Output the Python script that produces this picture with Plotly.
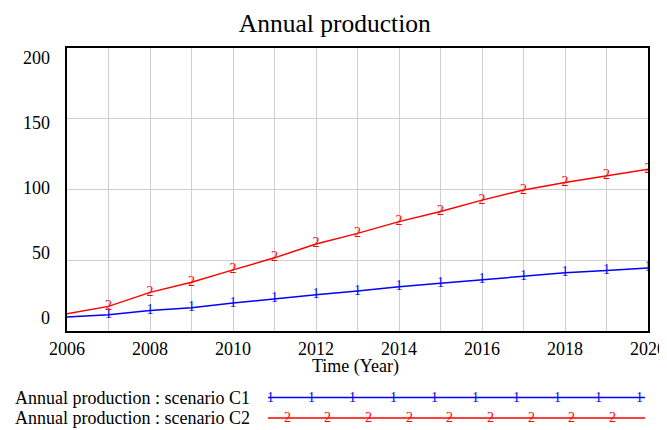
import plotly.graph_objects as go


# ==========================
# DATA
# ==========================

years = list(range(2006, 2021))

scenario_c1 = [9.9, 11.5, 14.4, 16.5, 19.7, 22.8, 25.6, 28.2, 31.3,
               33.8, 36.2, 38.5, 41.1, 42.7, 44.6]

scenario_c2 = [12.2, 17.4, 27.3, 34.5, 43.2, 51.7, 61.5, 69.0, 77.3,
               84.5, 92.5, 99.6, 105.0, 109.6, 114.4]

series_names = [
    "Annual production : scenario C1",
    "Annual production : scenario C2",
]

y_ticks = [0, 50, 100, 150, 200]
x_ticks = list(range(2006, 2021, 2))


# ==========================
# COMMON SETTINGS
# ==========================

FONT = "Liberation Serif"
BLUE = "#0000FF"
RED = "#FF0000"
GRID = "#cfcfcf"


def series_trace(y, label, color, name):

    marks = [""] + [label] * (len(y) - 1)

    return go.Scatter(
        x=years,
        y=y,
        name=name,
        mode="lines+text",
        text=marks,
        textposition="middle center",
        textfont=dict(family=FONT, size=14, color=color),
        line=dict(color=color, width=1.5),
        showlegend=False
    )


def paper_text(text, x, y, size=18, color="black", anchor="center"):

    fig.add_annotation(
        text=text,
        x=x,
        y=y,
        xref="paper",
        yref="paper",
        xanchor=anchor,
        yanchor="middle",
        showarrow=False,
        font=dict(family=FONT, size=size, color=color)
    )


fig = go.Figure()

fig.add_trace(series_trace(scenario_c1, "1", BLUE, series_names[0]))
fig.add_trace(series_trace(scenario_c2, "2", RED, series_names[1]))


# ==========================
# LAYOUT
# ==========================

# the page body keeps its 8px default margin, so margins are trimmed
# on the left / top to land the frame where the reference has it
fig.update_layout(
    width=667,
    height=430,
    margin=dict(l=59, r=27, t=40, b=107),
    paper_bgcolor="white",
    plot_bgcolor="white",
    font=dict(family=FONT, size=18, color="black"),
    title=dict(
        text="Annual production",
        x=0.49,
        xanchor="center",
        y=0.965,
        yanchor="middle",
        font=dict(family=FONT, size=25.5, color="black")
    ),
)

fig.update_xaxes(
    range=[2006, 2020],
    tickvals=x_ticks,
    ticks="",
    automargin=False,
    showgrid=True,
    gridcolor=GRID,
    gridwidth=1,
    minor=dict(dtick=1, showgrid=True, gridcolor=GRID, gridwidth=1),
    showline=True,
    linecolor="black",
    linewidth=2,
    mirror=True,
    zeroline=False,
    tickfont=dict(family=FONT, size=18)
)

# Vensim spreads its y labels a little inside the frame, so draw them
# as annotations instead of the axis' own tick labels
fig.update_yaxes(
    range=[0, 200],
    tickvals=y_ticks,
    showticklabels=False,
    ticks="",
    automargin=False,
    showgrid=True,
    gridcolor=GRID,
    gridwidth=1,
    showline=True,
    linecolor="black",
    linewidth=2,
    mirror=True,
    zeroline=False
)

for i, tick in enumerate(y_ticks):
    paper_text(str(tick), -0.026, 0.046 + 0.2297 * i, anchor="right")

paper_text("Time (Year)", 0.497, -0.126)


# ==========================
# LEGEND (Vensim style rows)
# ==========================

legend_rows = [
    (series_names[0], BLUE, "1", -0.235, 0.351, 0.0704, 10),
    (series_names[1], RED, "2", -0.307, 0.379, 0.0700, 9),
]

for name, color, label, y_pos, first, step, count in legend_rows:

    paper_text(name, -0.093, y_pos, anchor="left")

    fig.add_shape(
        type="line",
        x0=0.346,
        x1=0.995,
        y0=y_pos,
        y1=y_pos,
        xref="paper",
        yref="paper",
        line=dict(color=color, width=1.5)
    )

    for i in range(count):
        paper_text(label, first + i * step, y_pos, size=14, color=color)


fig.write_html("out.html")
